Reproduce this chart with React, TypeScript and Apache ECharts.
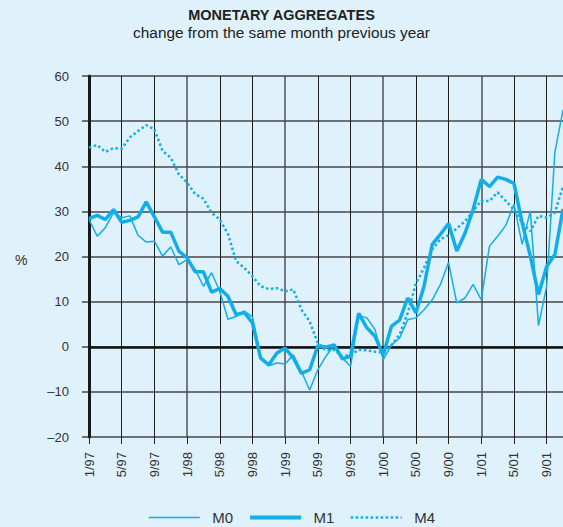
import React, { useEffect, useRef } from "react";
import * as echarts from "echarts";

const categories = [
  "1/97","2/97","3/97","4/97","5/97","6/97","7/97","8/97","9/97","10/97","11/97","12/97",
  "1/98","2/98","3/98","4/98","5/98","6/98","7/98","8/98","9/98","10/98","11/98","12/98",
  "1/99","2/99","3/99","4/99","5/99","6/99","7/99","8/99","9/99","10/99","11/99","12/99",
  "1/00","2/00","3/00","4/00","5/00","6/00","7/00","8/00","9/00","10/00","11/00","12/00",
  "1/01","2/01","3/01","4/01","5/01","6/01","7/01","8/01","9/01","10/01","11/01",
];

const m0 = [
  28.2, 24.5, 26.4, 29.7, 28.6, 29.0, 24.7, 23.2, 23.4, 20.1, 22.1, 18.2,
  19.3, 17.1, 13.4, 16.4, 12.3, 6.1, 6.7, 7.9, 6.6, -2.1, -4.2, -3.6,
  -3.8, -1.8, -5.5, -9.6, -5.1, -2.1, 0.4, -2.5, -4.4, 6.9, 6.4, 3.8,
  -2.9, 0.4, 1.9, 6.0, 6.4, 8.2, 10.4, 13.8, 18.7, 9.7, 10.8, 13.8,
  10.4, 22.3, 24.5, 26.9, 31.6, 22.7, 30.1, 4.7, 13.4, 43.0, 52.5,
];

const m1 = [
  28.4, 29.1, 28.2, 30.4, 27.6, 28.0, 28.8, 32.1, 28.8, 25.4, 25.4, 21.2,
  19.7, 16.6, 16.6, 12.1, 12.9, 11.2, 7.1, 7.6, 5.3, -2.5, -4.0, -1.4,
  -0.3, -2.5, -5.9, -5.1, 0.2, -0.1, 0.4, -2.7, -2.1, 7.4, 4.2, 2.3,
  -1.8, 4.5, 5.9, 10.8, 7.5, 13.4, 22.7, 24.9, 27.3, 21.2, 25.1, 30.4,
  37.1, 35.5, 37.6, 37.1, 36.2, 27.5, 20.1, 11.6, 17.8, 20.4, 30.5,
];

const m4 = [
  44.1, 44.7, 43.2, 44.0, 43.9, 46.4, 47.8, 49.1, 48.2, 43.4, 41.9, 38.2,
  36.4, 33.8, 32.8, 29.7, 28.2, 25.0, 19.0, 17.5, 15.6, 13.4, 12.8, 13.0,
  12.3, 12.7, 8.2, 5.6, 0.8, -0.8, -0.7, -2.1, -1.8, -0.7, -0.8, -1.1,
  -1.3, 0.3, 2.7, 7.5, 14.0, 17.5, 21.6, 23.8, 24.7, 26.2, 27.8, 30.1,
  32.3, 32.3, 34.2, 32.3, 30.4, 27.5, 25.6, 29.0, 28.6, 29.7, 35.5,
];

const FONT = "'Liberation Sans', Arial, sans-serif";
const BLUE = "#12aee8";

export default function App() {
  const ref = useRef<HTMLDivElement>(null);
  useEffect(() => {
    if (!ref.current) return;
    const chart = echarts.init(ref.current, undefined, { renderer: "svg" });
    const hidden = { opacity: 0, color: "rgba(0,0,0,0)", borderWidth: 0 };
    chart.setOption({
      animation: false,
      backgroundColor: "#dff1fb",
      textStyle: { fontFamily: FONT },
      title: [
        {
          text: "MONETARY AGGREGATES",
          left: "center",
          top: 2,
          textStyle: { fontFamily: FONT, fontSize: 14.5, fontWeight: "bold", color: "#222" },
        },
        {
          text: "change from the same month previous year",
          left: "center",
          top: 20,
          textStyle: { fontFamily: FONT, fontSize: 15.4, fontWeight: "normal", color: "#222" },
        },
      ],
      grid: { left: 89, right: -2, top: 76, bottom: 90 },
      xAxis: [
        {
          type: "category",
          data: categories,
          boundaryGap: false,
          axisLine: { show: false, onZero: false },
          axisTick: { show: true, interval: 3, length: 7, lineStyle: { color: "#222", width: 1 } },
          axisLabel: { interval: 3, rotate: 90, margin: 15, fontSize: 13, color: "#333", fontFamily: FONT },
          splitLine: {
            show: true,
            interval: 3,
            lineStyle: { color: ["rgba(0,0,0,0)", "#1e1e1e", "#1e1e1e"], width: 1 },
          },
        },
        {
          type: "category",
          data: categories,
          boundaryGap: false,
          position: "bottom",
          axisLine: { show: true, onZero: true, lineStyle: { color: "#111", width: 2.5 } },
          axisTick: { show: false },
          axisLabel: { show: false },
          splitLine: { show: true, interval: 11, lineStyle: { color: "rgba(70,70,70,0.7)", width: 2 } },
        },
      ],
      yAxis: {
        type: "value",
        min: -20,
        max: 60,
        interval: 10,
        axisLine: { show: true, onZero: false, lineStyle: { color: "#1a1a1a", width: 3 } },
        axisTick: { show: true, length: 7, lineStyle: { color: "rgba(30,30,30,0.8)", width: 1.5 } },
        axisLabel: {
          margin: 20,
          fontSize: 13,
          color: "#333",
          fontFamily: FONT,
          formatter: (v: number) => (v < 0 ? "\u2013" + Math.abs(v) : String(v)),
        },
        splitLine: { show: true, lineStyle: { color: "rgba(30,30,30,0.8)", width: 1.5 } },
      },
      legend: {
        top: 505,
        left: 143,
        itemWidth: 51,
        itemHeight: 12,
        itemGap: 15,
        itemStyle: hidden,
        formatter: (name: string) => "\u2002" + name,
        textStyle: { fontFamily: FONT, fontSize: 15, color: "#333" },
        data: [
          { name: "M0", itemStyle: hidden, lineStyle: { width: 1.5, type: "solid", color: BLUE } },
          { name: "M1", itemStyle: hidden, lineStyle: { width: 4, type: "solid", color: BLUE } },
          { name: "M4", itemStyle: hidden, lineStyle: { width: 2.5, type: [2.5, 2.5], color: BLUE } },
        ],
      },
      graphic: [
        {
          type: "text",
          left: 15,
          top: 253,
          style: { text: "%", font: `14px ${FONT}`, fill: "#333" },
        },
      ],
      series: [
        {
          name: "M0",
          type: "line",
          data: m0,
          symbol: "none",
          showSymbol: false,
          color: BLUE,
          lineStyle: { width: 1.5, color: BLUE },
          z: 3,
        },
        {
          name: "M1",
          type: "line",
          data: m1,
          symbol: "none",
          showSymbol: false,
          color: BLUE,
          lineStyle: { width: 3.5, color: BLUE },
          z: 4,
        },
        {
          name: "M4",
          type: "line",
          data: m4,
          symbol: "none",
          showSymbol: false,
          color: BLUE,
          lineStyle: { width: 2.5, type: [2.5, 2.5], color: BLUE },
          z: 2,
        },
      ],
    });
    return () => chart.dispose();
  }, []);
  return <div ref={ref} style={{ width: 563, height: 527, position: "fixed", left: 0, top: 0 }} />;
}
